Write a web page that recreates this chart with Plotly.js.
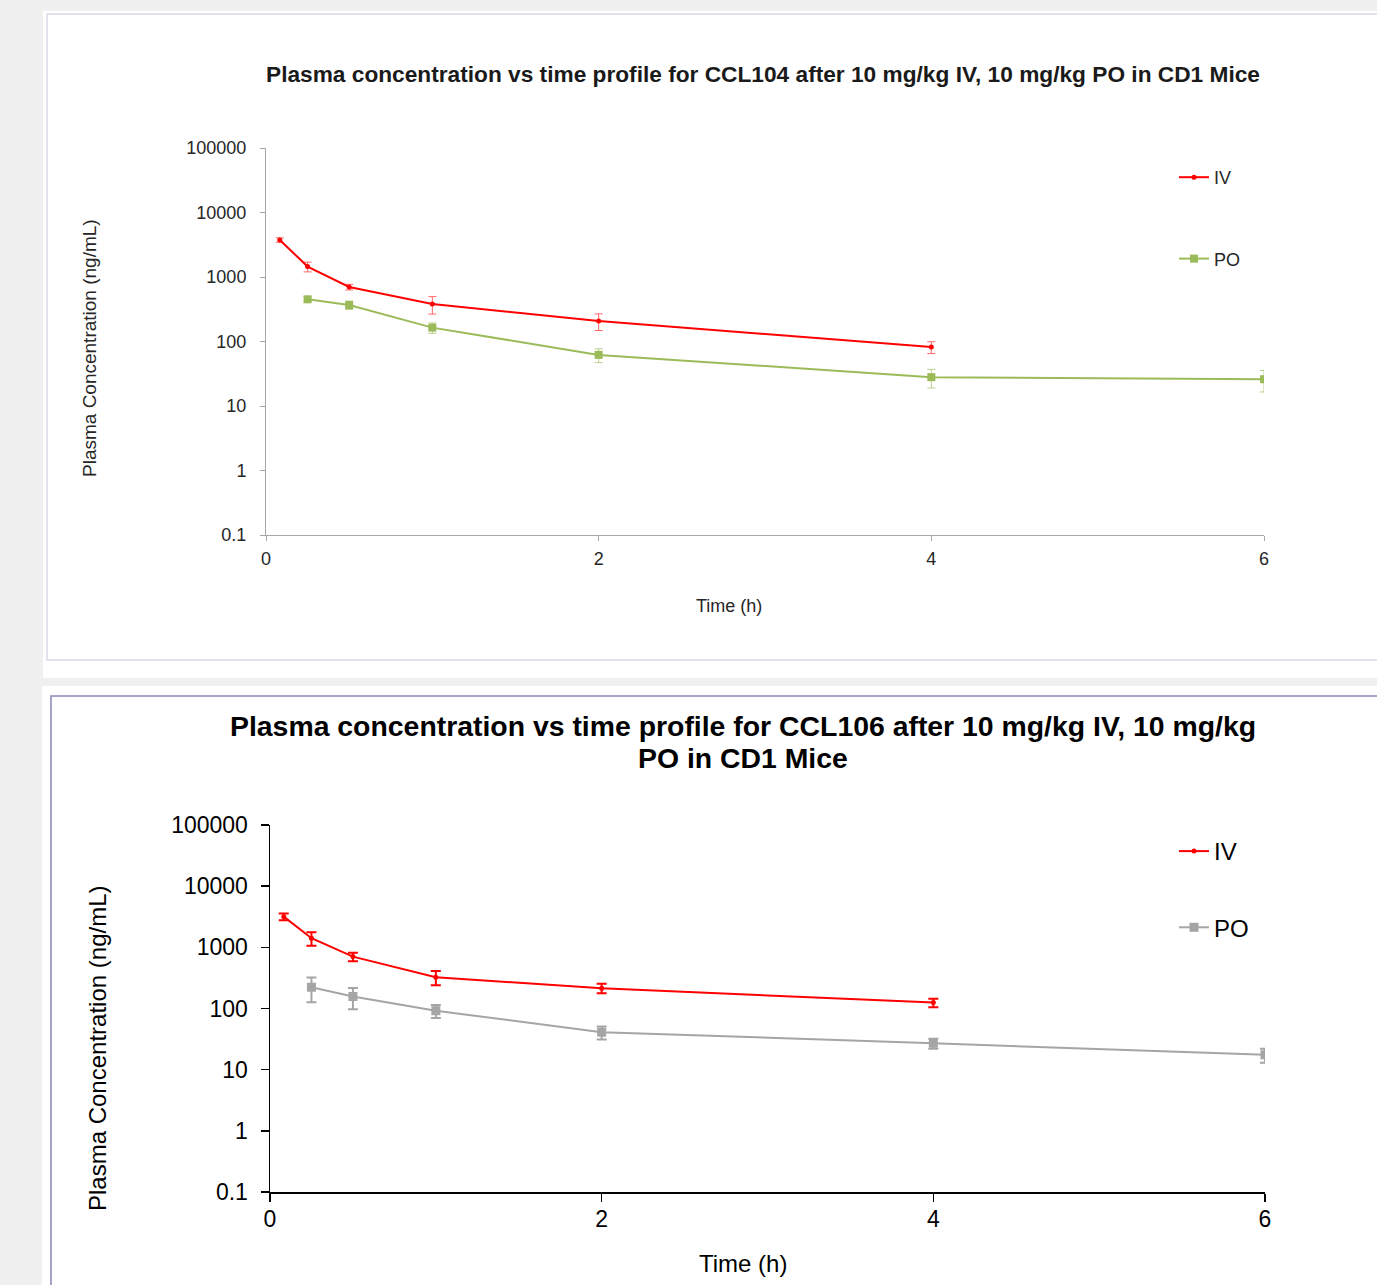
<!DOCTYPE html>
<html>
<head>
<meta charset="utf-8">
<script src="https://cdn.plot.ly/plotly-3.0.1.min.js"></script>
<style>html,body{margin:0;padding:0;background:#f0f0f0;}#chart{width:1377px;height:1285px;}</style>
</head>
<body>
<div id="chart"></div>
<script>
// ---- Data ----
const ivTime = [0.083, 0.25, 0.5, 1, 2, 4];
const poTime = [0.25, 0.5, 1, 2, 4, 6];

// CCL104
const ccl104IV = [3750, 1450, 700, 381, 208, 82];
const ccl104IVsd = [300, 250, 70, 115, 60, 17];
const ccl104PO = [451, 368, 164, 62, 28, 26];
const ccl104POsd = [40, 55, 30, 15, 9, 9.5];

// CCL106
const ccl106IV = [3175, 1410, 705, 324, 215, 125];
const ccl106IVsd = [400, 350, 110, 85, 38, 20];
const ccl106PO = [223, 157, 92, 41, 27, 17.5];
const ccl106POsd = [97, 60, 22, 10, 5, 4.5];

const yTickVals = [0.1, 1, 10, 100, 1000, 10000, 100000];
const yTickText = ['0.1', '1', '10', '100', '1000', '10000', '100000'];
const xTickVals = [0, 2, 4, 6];

const title1 = 'Plasma concentration vs time profile for CCL104 after 10 mg/kg IV, 10 mg/kg PO in CD1 Mice';
const title2a = 'Plasma concentration vs time profile for CCL106 after 10 mg/kg IV, 10 mg/kg';
const title2b = 'PO in CD1 Mice';
const yTitle = 'Plasma Concentration (ng/mL)';
const xTitle = 'Time (h)';

// ---- Layout helpers ----
const W = 1377, H = 1285;
const px = v => v / W;
const py = v => 1 - v / H;
const FONT = 'Liberation Sans, Arial, sans-serif';

const RED = '#ff0000', GREEN = '#9bbb59', GREY = '#a5a5a5';

const traces = [
  {x: ivTime, y: ccl104IV, name: 'IV', xaxis: 'x', yaxis: 'y', mode: 'lines+markers',
   line: {color: RED, width: 2}, marker: {color: RED, size: 5, symbol: 'circle'},
   error_y: {type: 'data', array: ccl104IVsd, visible: true, color: '#ff6666', thickness: 1, width: 4},
   legend: 'legend', legendgroup: 'a'},
  {x: poTime, y: ccl104PO, name: 'PO', xaxis: 'x', yaxis: 'y', mode: 'lines+markers',
   line: {color: GREEN, width: 2}, marker: {color: GREEN, size: 8, symbol: 'square'},
   error_y: {type: 'data', array: ccl104POsd, visible: true, color: '#b9d08e', thickness: 1, width: 4},
   legend: 'legend', legendgroup: 'b'},
  {x: ivTime, y: ccl106IV, name: 'IV', xaxis: 'x2', yaxis: 'y2', mode: 'lines+markers',
   line: {color: RED, width: 2}, marker: {color: RED, size: 5, symbol: 'circle'},
   error_y: {type: 'data', array: ccl106IVsd, visible: true, color: RED, thickness: 2, width: 5},
   legend: 'legend2', legendgroup: 'c'},
  {x: poTime, y: ccl106PO, name: 'PO', xaxis: 'x2', yaxis: 'y2', mode: 'lines+markers',
   line: {color: GREY, width: 2}, marker: {color: GREY, size: 9, symbol: 'square'},
   error_y: {type: 'data', array: ccl106POsd, visible: true, color: GREY, thickness: 2, width: 5},
   legend: 'legend2', legendgroup: 'd'}
];

const axis1Common = {showgrid: false, zeroline: false, showline: true, linecolor: '#a6a6a6', linewidth: 1,
  ticks: 'outside', ticklen: 5, tickcolor: '#a6a6a6', tickfont: {family: FONT, size: 18, color: '#262626'}};
const axis2Common = {showgrid: false, zeroline: false, showline: true, linecolor: '#000000', linewidth: 1.5,
  ticks: 'outside', ticklen: 8, tickcolor: '#000000', tickwidth: 1.5, tickfont: {family: FONT, size: 23, color: '#000000'}};

const layout = {
  width: W, height: H,
  margin: {l: 0, r: 0, t: 0, b: 0, pad: 0},
  paper_bgcolor: '#f0f0f0',
  plot_bgcolor: 'rgba(0,0,0,0)',
  font: {family: FONT},
  xaxis: Object.assign({}, axis1Common, {domain: [px(266), px(1264)], range: [0, 6], tickvals: xTickVals,
    anchor: 'y', ticklabelstandoff: 2}),
  yaxis: Object.assign({}, axis1Common, {domain: [py(535), py(148)], type: 'log', range: [-1, 5],
    tickvals: yTickVals, ticktext: yTickText, anchor: 'x', ticklabelstandoff: 10}),
  xaxis2: Object.assign({}, axis2Common, {domain: [px(270), px(1265)], range: [0, 6], tickvals: xTickVals,
    anchor: 'y2', ticklabelstandoff: -2}),
  yaxis2: Object.assign({}, axis2Common, {domain: [py(1192), py(825)], type: 'log', range: [-1, 5],
    tickvals: yTickVals, ticktext: yTickText, anchor: 'x2', ticklabelstandoff: 8}),
  showlegend: true,
  legend: {x: px(1174), y: py(159), xanchor: 'left', yanchor: 'top', bgcolor: 'rgba(0,0,0,0)',
    font: {family: FONT, size: 18, color: '#262626'}, traceorder: 'grouped', tracegroupgap: 55, itemwidth: 30},
  legend2: {x: px(1174), y: py(829), xanchor: 'left', yanchor: 'top', bgcolor: 'rgba(0,0,0,0)',
    font: {family: FONT, size: 24, color: '#000000'}, traceorder: 'grouped', tracegroupgap: 42, itemwidth: 30},
  shapes: [
    {type: 'rect', xref: 'paper', yref: 'paper', x0: px(43), x1: px(1380), y0: py(678), y1: py(11),
     fillcolor: '#ffffff', line: {width: 0}, layer: 'below'},
    {type: 'rect', xref: 'paper', yref: 'paper', x0: px(47), x1: px(1390), y0: py(660), y1: py(14),
     fillcolor: 'rgba(0,0,0,0)', line: {color: '#d9d9ea', width: 1.5}, layer: 'below'},
    {type: 'rect', xref: 'paper', yref: 'paper', x0: px(42), x1: px(1380), y0: py(1290), y1: py(686),
     fillcolor: '#ffffff', line: {width: 0}, layer: 'below'},
    {type: 'rect', xref: 'paper', yref: 'paper', x0: px(51), x1: px(1390), y0: py(1300), y1: py(696),
     fillcolor: 'rgba(0,0,0,0)', line: {color: '#8686b6', width: 1.5}, layer: 'below'}
  ],
  annotations: [
    {text: '<b>' + title1 + '</b>', xref: 'paper', yref: 'paper', x: px(763), y: py(74),
     xanchor: 'center', yanchor: 'middle', showarrow: false, font: {family: FONT, size: 22.7, color: '#1a1a1a'}},
    {text: '<b>' + title2a + '</b>', xref: 'paper', yref: 'paper', x: px(743), y: py(726),
     xanchor: 'center', yanchor: 'middle', showarrow: false, font: {family: FONT, size: 28.4, color: '#000000'}},
    {text: '<b>' + title2b + '</b>', xref: 'paper', yref: 'paper', x: px(743), y: py(758),
     xanchor: 'center', yanchor: 'middle', showarrow: false, font: {family: FONT, size: 28.4, color: '#000000'}},
    {text: xTitle, xref: 'paper', yref: 'paper', x: px(729), y: py(606),
     xanchor: 'center', yanchor: 'middle', showarrow: false, font: {family: FONT, size: 18, color: '#262626'}},
    {text: xTitle, xref: 'paper', yref: 'paper', x: px(743), y: py(1263),
     xanchor: 'center', yanchor: 'middle', showarrow: false, font: {family: FONT, size: 24, color: '#000000'}},
    {text: yTitle, xref: 'paper', yref: 'paper', x: px(90), y: py(348), textangle: -90,
     xanchor: 'center', yanchor: 'middle', showarrow: false, font: {family: FONT, size: 19, color: '#262626'}},
    {text: yTitle, xref: 'paper', yref: 'paper', x: px(97), y: py(1049), textangle: -90,
     xanchor: 'center', yanchor: 'middle', showarrow: false, font: {family: FONT, size: 24, color: '#000000'}}
  ]
};

Plotly.newPlot('chart', traces, layout, {displayModeBar: false, staticPlot: true});
</script>
</body>
</html>
